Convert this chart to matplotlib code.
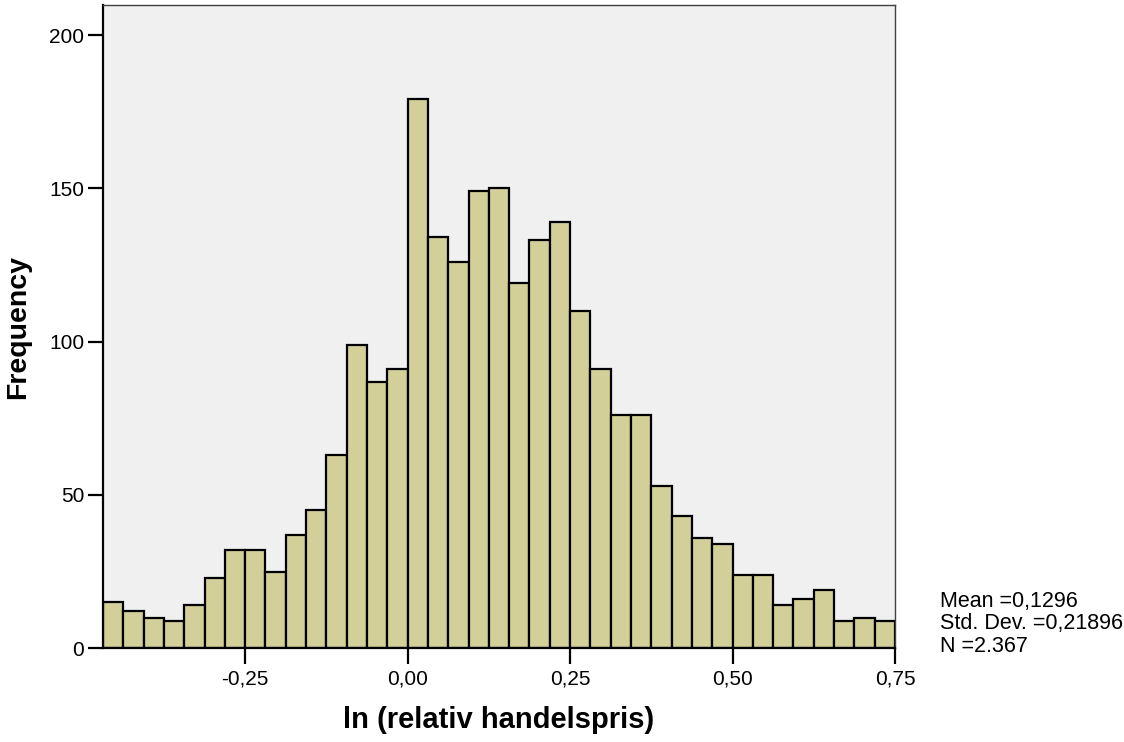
import numpy as np
import matplotlib
matplotlib.use("Agg")
import matplotlib.pyplot as plt

# histogram bins: width 1/32, from -15/32 to 24/32
bin_start = -0.46875
bin_width = 0.03125
counts = [15, 12, 10, 9, 14, 23, 32, 32, 25, 37,
          45, 63, 99, 87, 91, 179, 134, 126, 149, 150,
          119, 133, 139, 110, 91, 76, 76, 53, 43, 36,
          34, 24, 24, 14, 16, 19, 9, 10, 9]

x_ticks = [-0.25, 0.0, 0.25, 0.50, 0.75]
x_tick_labels = ["-0,25", "0,00", "0,25", "0,50", "0,75"]
y_ticks = [0, 50, 100, 150, 200]

stats_lines = ["Mean =0,1296", "Std. Dev. =0,21896", "N =2.367"]

plt.rcParams["font.family"] = ["Liberation Sans", "DejaVu Sans"]

fig = plt.figure(figsize=(11.24, 7.42), dpi=100)
ax = fig.add_axes([0.0916, 0.1263, 0.7047, 0.867])
ax.set_facecolor("#f0f0f0")

lefts = bin_start + bin_width * np.arange(len(counts))
ax.bar(lefts, counts, width=bin_width, align="edge",
       color="#d3cf98", edgecolor="black", linewidth=1.6)

ax.set_xlim(bin_start, bin_start + bin_width * len(counts))
ax.set_ylim(0, 209.8)

ax.set_xticks(x_ticks)
ax.set_xticklabels(x_tick_labels)
ax.set_yticks(y_ticks)
ax.tick_params(axis="x", length=11.5, width=1.6, labelsize=15, pad=3.5)
ax.tick_params(axis="y", length=10.5, width=1.6, labelsize=15, pad=3)

for side in ["left", "bottom"]:
    ax.spines[side].set_linewidth(1.6)
    ax.spines[side].set_color("black")
for side in ["top", "right"]:
    ax.spines[side].set_linewidth(1.0)
    ax.spines[side].set_color("#404040")

ax.set_xlabel("ln (relativ handelspris)", fontsize=21, fontweight="bold")
ax.set_ylabel("Frequency", fontsize=20.5, fontweight="bold")
ax.xaxis.set_label_coords(0.5, -0.090)
ax.yaxis.set_label_coords(-0.091, 0.5)

for i, line in enumerate(stats_lines):
    fig.text(940 / 1124, 1 - (601 + 23 * i) / 742, line, fontsize=15.5,
             va="center", ha="left")

fig.savefig("out.png", dpi=100)
